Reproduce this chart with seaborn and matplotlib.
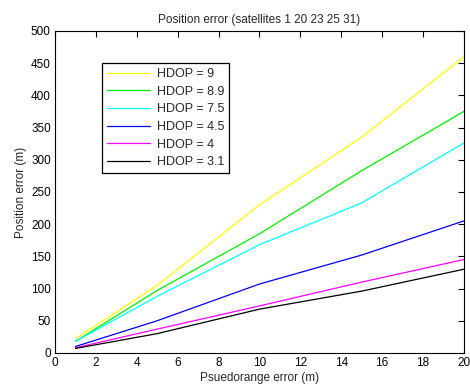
import matplotlib
matplotlib.use("Agg")
import matplotlib.pyplot as plt
import seaborn as sns
import pandas as pd

x_vals = [1, 5, 10, 15, 20]
hdop_labels = ["HDOP = 9", "HDOP = 8.9", "HDOP = 7.5", "HDOP = 4.5", "HDOP = 4", "HDOP = 3.1"]
err_9 = [22, 105, 230, 335, 460]
err_8_9 = [18, 97, 185, 283, 375]
err_7_5 = [18, 88, 168, 233, 326]
err_4_5 = [10, 50, 107, 152, 205]
err_4 = [8, 37, 73, 110, 145]
err_3_1 = [7, 30, 68, 96, 130]
colors = ["#ffff00", "#00ee00", "#00ffff", "#0000ee", "#ff00ff", "#000000"]

series = [err_9, err_8_9, err_7_5, err_4_5, err_4, err_3_1]
rows = []
for lab, vals in zip(hdop_labels, series):
    for xv, yv in zip(x_vals, vals):
        rows.append({"x": xv, "y": yv, "HDOP": lab})
df = pd.DataFrame(rows)

sns.set_style("white")
plt.rcParams["font.family"] = ["Liberation Sans", "DejaVu Sans"]

fig = plt.figure(figsize=(4.7, 3.87), dpi=100)
ax = fig.add_axes([0.117, 0.088, 0.870, 0.832])
sns.lineplot(data=df, x="x", y="y", hue="HDOP", hue_order=hdop_labels,
             palette=colors, linewidth=0.9, ax=ax)

ax.set_xlim(0, 20)
ax.set_ylim(0, 500)
ax.set_xticks(range(0, 21, 2))
ax.set_yticks(range(0, 501, 50))
ax.tick_params(direction="in", length=4, width=0.8, top=True, right=True,
               labelsize=8.5, pad=3, colors="black")
for s in ax.spines.values():
    s.set_visible(True)
    s.set_color("black")
    s.set_linewidth(0.8)
ax.set_xlabel("Psuedorange error (m)", fontsize=8.5, labelpad=2)
ax.set_ylabel("Position error (m)", fontsize=8.5, labelpad=3)
ax.set_title("Position error (satellites 1 20 23 25 31)", fontsize=8.5, pad=6)

leg = ax.legend(loc="upper left", bbox_to_anchor=(0.115, 0.90), borderaxespad=0,
                fontsize=9, frameon=True, fancybox=False, edgecolor="black",
                framealpha=1, handlelength=3.4, labelspacing=0.45, borderpad=0.4,
                handletextpad=0.6)
leg.get_frame().set_linewidth(0.9)

fig.savefig("out.png", dpi=100)
